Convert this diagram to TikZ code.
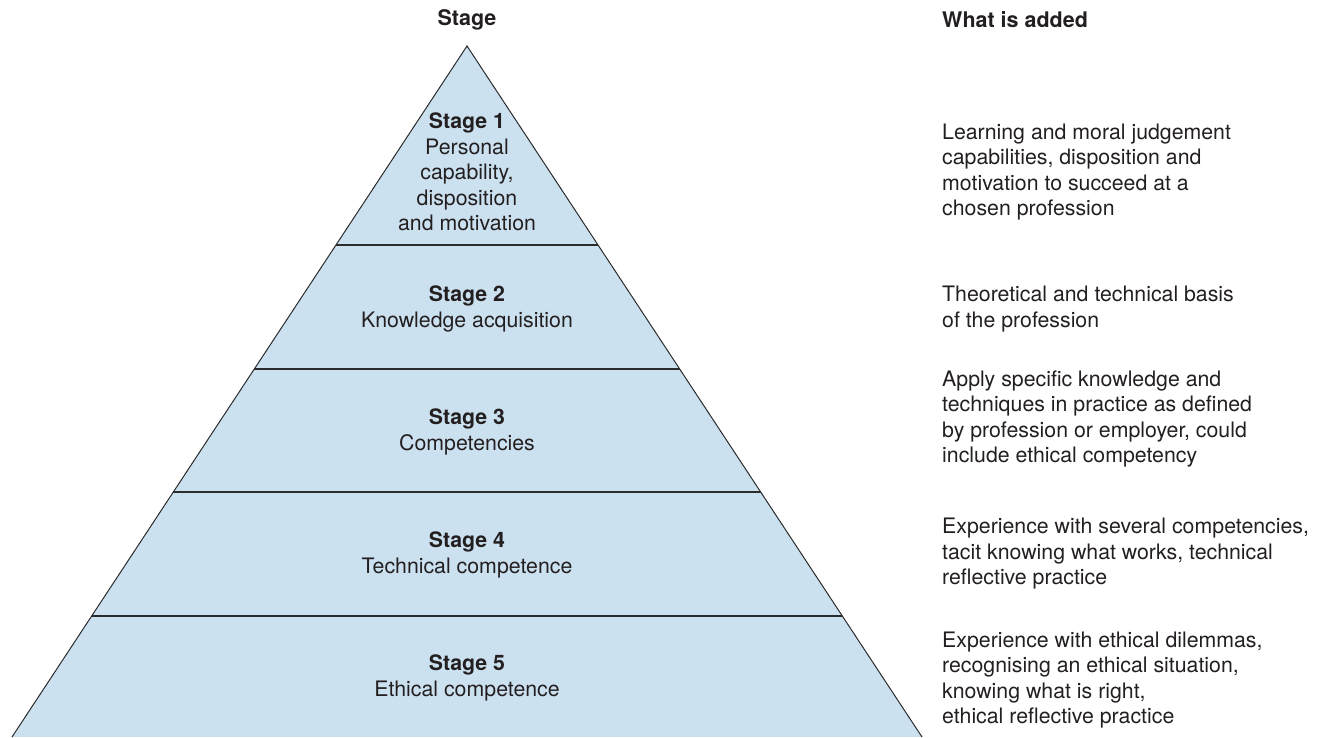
\documentclass[tikz,border=0pt]{standalone}
\usepackage{fontspec}
\setmainfont{TeX Gyre Heros}
\definecolor{txt}{HTML}{231F20}
\definecolor{pyfill}{HTML}{CCE1F0}
\definecolor{pyline}{HTML}{2B2B2B}
\begin{document}
\begin{tikzpicture}[x=1pt,y=-1pt,
  lbl/.style={text=txt,font=\fontsize{21.3}{25.5}\selectfont,inner sep=0pt,align=center},
  rtxt/.style={text=txt,font=\fontsize{21.3}{25.5}\selectfont,inner sep=0pt,align=left,anchor=west},
  hdr/.style={text=txt,font=\fontsize{21.5}{25}\selectfont\bfseries,inner sep=0pt},
  sep/.style={draw=pyline,line width=1.1pt}]
\useasboundingbox (0,0) rectangle (1323,737);
% pyramid
\coordinate (apex) at (467,46);
\coordinate (bl) at (12,737);
\coordinate (br) at (922,737);
\fill[pyfill] (apex) -- (br) -- (bl) -- cycle;
% separator lines (y = 245, 369, 492, 616)
\foreach \y/\n in {245/a,369/b,492/c,616/d}{
  \pgfmathsetmacro{\dx}{0.65847*(\y-46)}
  \coordinate (L\n) at ({467-\dx},\y);
  \coordinate (R\n) at ({467+\dx},\y);
  \draw[sep] (L\n) -- (R\n);
}
\draw[draw=pyline,line width=1pt,line join=miter] (bl) -- (apex) -- (br);
% headers
\node[hdr] (h1) at (467,20) {Stage};
\node[hdr,anchor=west] (h2) at (942,20) {What is added};
% pyramid labels
\node[lbl] (s1) at (467,172) {\textbf{Stage 1}\\Personal\\capability,\\disposition\\and motivation};
\node[lbl] (s2) at (467,309) {\textbf{Stage 2}\\Knowledge acquisition};
\node[lbl] (s3) at (467,432) {\textbf{Stage 3}\\Competencies};
\node[lbl] (s4) at (467,555) {\textbf{Stage 4}\\Technical competence};
\node[lbl] (s5) at (467,678) {\textbf{Stage 5}\\Ethical competence};
% right column
\node[rtxt] (r1) at (942,172) {Learning and moral judgement\\capabilities, disposition and\\motivation to succeed at a\\chosen profession};
\node[rtxt] (r2) at (942,309) {Theoretical and technical basis\\of the profession};
\node[rtxt] (r3) at (942,419) {Apply specific knowledge and\\techniques in practice as defined\\by profession or employer, could\\include ethical competency};
\node[rtxt] (r4) at (942,554) {Experience with several competencies,\\tacit knowing what works, technical\\reflective practice};
\node[rtxt] (r5) at (942,680) {Experience with ethical dilemmas,\\recognising an ethical situation,\\knowing what is right,\\ethical reflective practice};
\end{tikzpicture}
\end{document}
